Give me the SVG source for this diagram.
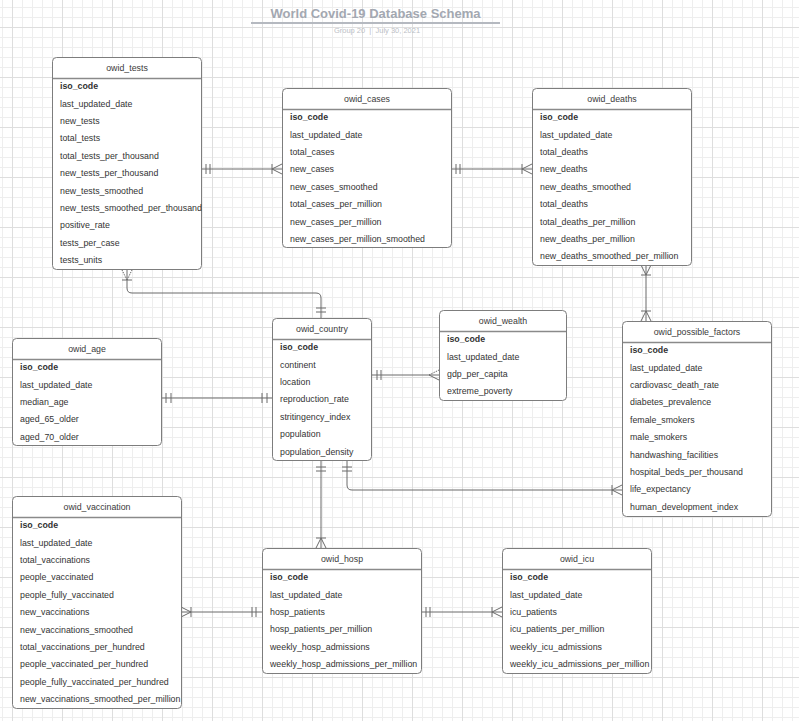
<svg xmlns="http://www.w3.org/2000/svg" width="799" height="721" viewBox="0 0 799 721">
<defs>
<pattern id="grid" patternUnits="userSpaceOnUse" x="12" y="27" width="50" height="50">
<path d="M10.5,0V50M20.5,0V50M30.5,0V50M40.5,0V50M0,10.5H50M0,20.5H50M0,30.5H50M0,40.5H50" stroke="#eeeeee" stroke-width="1" fill="none"/>
<path d="M0.5,0V50M0,0.5H50" stroke="#dedede" stroke-width="1" fill="none"/>
</pattern>
<style>
.box{fill:#fff;stroke:#7d7d7d;stroke-width:1}
.sep{stroke:#8a8a8a;stroke-width:1.6}
.hd{font-family:"Liberation Sans",Arial,sans-serif;font-size:8.8px;fill:#3a3a3a;text-anchor:middle}
.r{font-family:"Liberation Sans",Arial,sans-serif;font-size:8.8px;fill:#333}
.k{font-weight:bold}
.c{fill:none;stroke:#6a6a6a;stroke-width:1}
.d{fill:none;stroke:#6a6a6a;stroke-width:1;stroke-dasharray:1.5,1}
</style>
</defs>
<rect x="0" y="0" width="799" height="721" fill="#fff"/>
<rect x="0" y="0" width="799" height="721" fill="url(#grid)"/>

<g id="title">
<text x="375.5" y="18" font-family="Liberation Sans,Arial,sans-serif" font-size="13" font-weight="bold" fill="#a3a8b1" text-anchor="middle">World Covid-19 Database Schema</text>
<line x1="251" y1="23" x2="500" y2="23" stroke="#b5b9c0" stroke-width="2"/>
<text x="377" y="33" font-family="Liberation Sans,Arial,sans-serif" font-size="7.5" fill="#bcc0c6" text-anchor="middle" xml:space="preserve">Group 20  |  July 30, 2021</text>
</g>

<g id="connectors">
<path class="c" d="M201,169H282M206,164V174M210,164V174M272,164V174M272,169L282,164M272,169L282,174"/>
<path class="c" d="M451,169H532M456,164V174M460,164V174M522,164V174M522,169L532,164M522,169L532,174"/>
<path class="c" d="M127,270V288Q127,293 132,293H316Q321,293 321,298V318M122,280H132M316,308H326M316,312H326"/>
<path class="d" d="M127,280L122,270M127,280L132,270"/>
<path class="c" d="M371,375H439M377,370V380M381,370V380M429,375L439,380"/>
<path class="d" d="M429,375L439,370"/>
<path class="c" d="M646,265V321M641,275H651M646,275L641,265M646,275L651,265M641,311H651M646,311L641,321M646,311L651,321"/>
<path class="c" d="M161,398H272M166,393V403M171,393V403M262,393V403M267,393V403"/>
<path class="c" d="M347,461V485Q347,490 352,490H622M342,467H352M342,471H352M612,485V495M612,490L622,485M612,490L622,495"/>
<path class="c" d="M321,461V548M316,467H326M316,471H326M316,538H326M321,538L316,548M321,538L326,548"/>
<path class="c" d="M181,612H262M191,607V617M191,612L181,607M191,612L181,617M252,607V617M256,607V617"/>
<path class="c" d="M421,612H502M426,607V617M430,607V617M492,607V617M492,612L502,607M492,612L502,617"/>
</g>

<g id="owid_tests">
<rect class="box" x="52.5" y="57.5" width="149" height="212" rx="4"/>
<line class="sep" x1="53" y1="78.5" x2="201" y2="78.5"/>
<text class="hd" x="127" y="70.5">owid_tests</text>
<text class="r k" x="60" y="89.2">iso_code</text>
<text class="r" x="60" y="106.6">last_updated_date</text>
<text class="r" x="60" y="124">new_tests</text>
<text class="r" x="60" y="141.4">total_tests</text>
<text class="r" x="60" y="158.8">total_tests_per_thousand</text>
<text class="r" x="60" y="176.2">new_tests_per_thousand</text>
<text class="r" x="60" y="193.6">new_tests_smoothed</text>
<text class="r" x="60" y="211">new_tests_smoothed_per_thousand</text>
<text class="r" x="60" y="228.4">positive_rate</text>
<text class="r" x="60" y="245.8">tests_per_case</text>
<text class="r" x="60" y="263.2">tests_units</text>
</g>

<g id="owid_cases">
<rect class="box" x="282.5" y="88.5" width="169" height="159" rx="4"/>
<line class="sep" x1="283" y1="109.5" x2="451" y2="109.5"/>
<text class="hd" x="367" y="101.5">owid_cases</text>
<text class="r k" x="290" y="120.2">iso_code</text>
<text class="r" x="290" y="137.6">last_updated_date</text>
<text class="r" x="290" y="155">total_cases</text>
<text class="r" x="290" y="172.4">new_cases</text>
<text class="r" x="290" y="189.8">new_cases_smoothed</text>
<text class="r" x="290" y="207.2">total_cases_per_million</text>
<text class="r" x="290" y="224.6">new_cases_per_million</text>
<text class="r" x="290" y="242">new_cases_per_million_smoothed</text>
</g>

<g id="owid_deaths">
<rect class="box" x="532.5" y="88.5" width="159" height="177" rx="4"/>
<line class="sep" x1="533" y1="109.5" x2="691" y2="109.5"/>
<text class="hd" x="612" y="101.5">owid_deaths</text>
<text class="r k" x="540" y="120.2">iso_code</text>
<text class="r" x="540" y="137.6">last_updated_date</text>
<text class="r" x="540" y="155">total_deaths</text>
<text class="r" x="540" y="172.4">new_deaths</text>
<text class="r" x="540" y="189.8">new_deaths_smoothed</text>
<text class="r" x="540" y="207.2">total_deaths</text>
<text class="r" x="540" y="224.6">total_deaths_per_million</text>
<text class="r" x="540" y="242">new_deaths_per_million</text>
<text class="r" x="540" y="259.4">new_deaths_smoothed_per_million</text>
</g>

<g id="owid_country">
<rect class="box" x="272.5" y="318.5" width="99" height="142" rx="4"/>
<line class="sep" x1="273" y1="339.5" x2="371" y2="339.5"/>
<text class="hd" x="322" y="331.5">owid_country</text>
<text class="r k" x="280" y="350.2">iso_code</text>
<text class="r" x="280" y="367.6">continent</text>
<text class="r" x="280" y="385">location</text>
<text class="r" x="280" y="402.4">reproduction_rate</text>
<text class="r" x="280" y="419.8">stritingency_index</text>
<text class="r" x="280" y="437.2">population</text>
<text class="r" x="280" y="454.6">population_density</text>
</g>

<g id="owid_wealth">
<rect class="box" x="439.5" y="310.5" width="127" height="90" rx="4"/>
<line class="sep" x1="440" y1="331.5" x2="566" y2="331.5"/>
<text class="hd" x="503" y="323.5">owid_wealth</text>
<text class="r k" x="447" y="342.2">iso_code</text>
<text class="r" x="447" y="359.6">last_updated_date</text>
<text class="r" x="447" y="377">gdp_per_capita</text>
<text class="r" x="447" y="394.4">extreme_poverty</text>
</g>

<g id="owid_possible_factors">
<rect class="box" x="622.5" y="321.5" width="149" height="195" rx="4"/>
<line class="sep" x1="623" y1="342.5" x2="771" y2="342.5"/>
<text class="hd" x="697" y="334.5">owid_possible_factors</text>
<text class="r k" x="630" y="353.2">iso_code</text>
<text class="r" x="630" y="370.6">last_updated_date</text>
<text class="r" x="630" y="388">cardiovasc_death_rate</text>
<text class="r" x="630" y="405.4">diabetes_prevalence</text>
<text class="r" x="630" y="422.8">female_smokers</text>
<text class="r" x="630" y="440.2">male_smokers</text>
<text class="r" x="630" y="457.6">handwashing_facilities</text>
<text class="r" x="630" y="475">hospital_beds_per_thousand</text>
<text class="r" x="630" y="492.4">life_expectancy</text>
<text class="r" x="630" y="509.8">human_development_index</text>
</g>

<g id="owid_age">
<rect class="box" x="12.5" y="338.5" width="149" height="107" rx="4"/>
<line class="sep" x1="13" y1="359.5" x2="161" y2="359.5"/>
<text class="hd" x="87" y="351.5">owid_age</text>
<text class="r k" x="20" y="370.2">iso_code</text>
<text class="r" x="20" y="387.6">last_updated_date</text>
<text class="r" x="20" y="405">median_age</text>
<text class="r" x="20" y="422.4">aged_65_older</text>
<text class="r" x="20" y="439.8">aged_70_older</text>
</g>

<g id="owid_vaccination">
<rect class="box" x="12.5" y="496.5" width="169" height="212" rx="4"/>
<line class="sep" x1="13" y1="517.5" x2="181" y2="517.5"/>
<text class="hd" x="97" y="509.5">owid_vaccination</text>
<text class="r k" x="20" y="528.2">iso_code</text>
<text class="r" x="20" y="545.6">last_updated_date</text>
<text class="r" x="20" y="563">total_vaccinations</text>
<text class="r" x="20" y="580.4">people_vaccinated</text>
<text class="r" x="20" y="597.8">people_fully_vaccinated</text>
<text class="r" x="20" y="615.2">new_vaccinations</text>
<text class="r" x="20" y="632.6">new_vaccinations_smoothed</text>
<text class="r" x="20" y="650">total_vaccinations_per_hundred</text>
<text class="r" x="20" y="667.4">people_vaccinated_per_hundred</text>
<text class="r" x="20" y="684.8">people_fully_vaccinated_per_hundred</text>
<text class="r" x="20" y="702.2">new_vaccinations_smoothed_per_million</text>
</g>

<g id="owid_hosp">
<rect class="box" x="262.5" y="548.5" width="159" height="125" rx="4"/>
<line class="sep" x1="263" y1="569.5" x2="421" y2="569.5"/>
<text class="hd" x="342" y="561.5">owid_hosp</text>
<text class="r k" x="270" y="580.2">iso_code</text>
<text class="r" x="270" y="597.6">last_updated_date</text>
<text class="r" x="270" y="615">hosp_patients</text>
<text class="r" x="270" y="632.4">hosp_patients_per_million</text>
<text class="r" x="270" y="649.8">weekly_hosp_admissions</text>
<text class="r" x="270" y="667.2">weekly_hosp_admissions_per_million</text>
</g>

<g id="owid_icu">
<rect class="box" x="502.5" y="548.5" width="149" height="125" rx="4"/>
<line class="sep" x1="503" y1="569.5" x2="651" y2="569.5"/>
<text class="hd" x="577" y="561.5">owid_icu</text>
<text class="r k" x="510" y="580.2">iso_code</text>
<text class="r" x="510" y="597.6">last_updated_date</text>
<text class="r" x="510" y="615">icu_patients</text>
<text class="r" x="510" y="632.4">icu_patients_per_million</text>
<text class="r" x="510" y="649.8">weekly_icu_admissions</text>
<text class="r" x="510" y="667.2">weekly_icu_admissions_per_million</text>
</g>
</svg>
